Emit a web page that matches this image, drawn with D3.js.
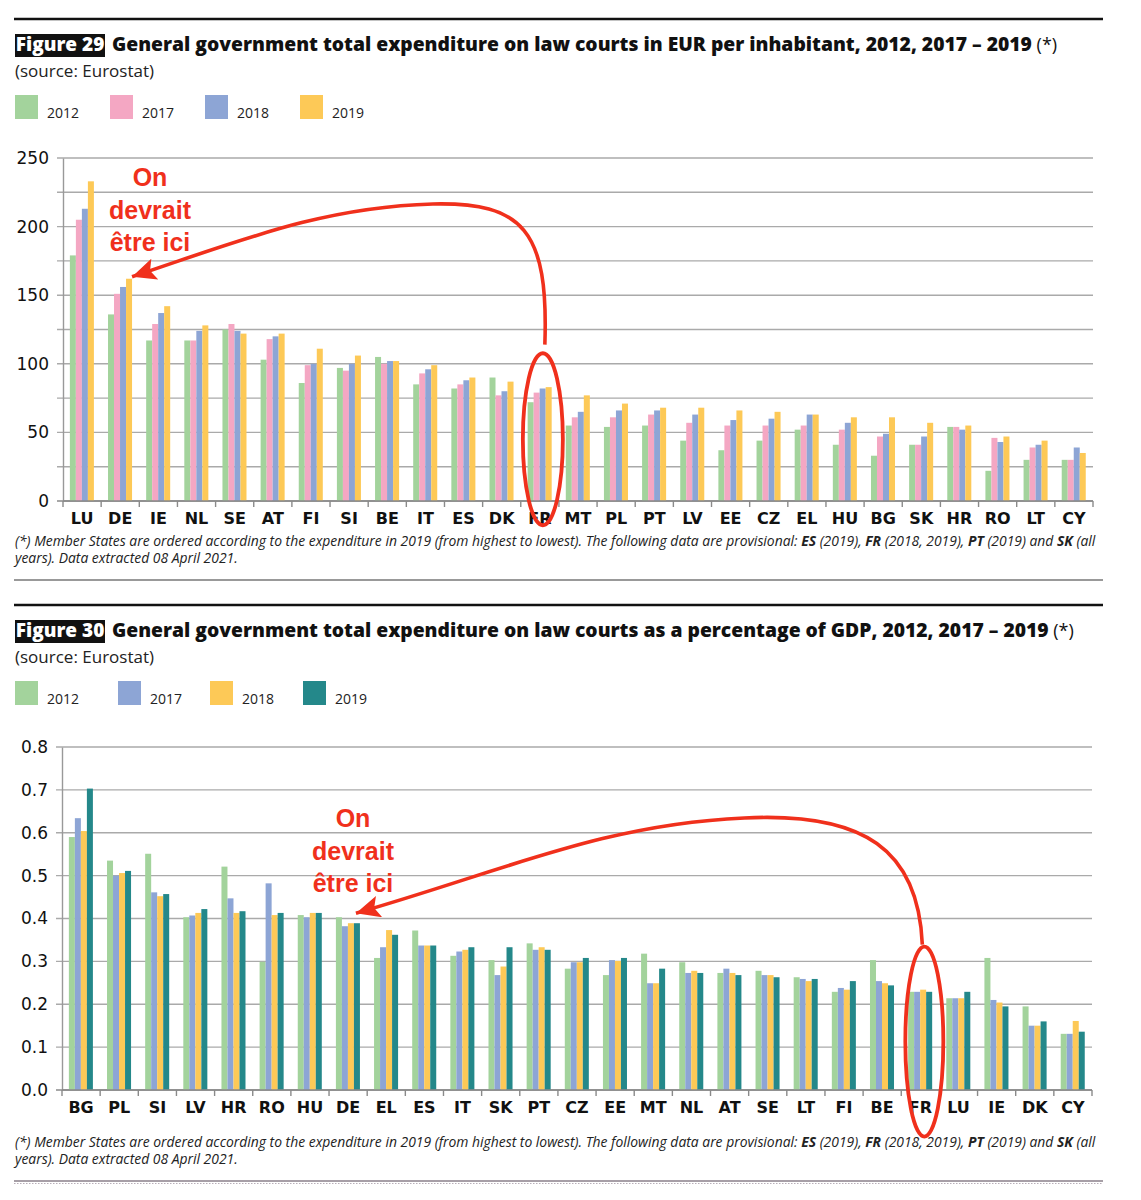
<!DOCTYPE html>
<html>
<head>
<meta charset="utf-8">
<script src="https://cdn.jsdelivr.net/npm/d3@7"></script>
<style>
  body { margin: 0; background: #fff; }
  svg { display: block; }
</style>
</head>
<body>
<svg id="page" width="1141" height="1200"></svg>
<script>
// ---- data, figure 29 (EUR per inhabitant) ----
var countries29 = ["LU","DE","IE","NL","SE","AT","FI","SI","BE","IT","ES","DK","FR","MT","PL","PT","LV","EE","CZ","EL","HU","BG","SK","HR","RO","LT","CY"];
var years29 = ["2012","2017","2018","2019"];
var eur2012 = [179,136,117,117,125,103,86,97,105,85,82,90,72,55,54,55,44,37,44,52,41,33,41,54,22,30,30];
var eur2017 = [205,151,129,117,129,118,99,95,100,93,85,77,79,61,61,63,57,55,55,55,52,47,41,54,46,39,30];
var eur2018 = [213,156,137,124,124,120,100,100,102,96,88,80,82,65,66,66,63,59,60,63,57,49,47,52,43,41,39];
var eur2019 = [233,162,142,128,122,122,111,106,102,99,90,87,83,77,71,68,68,66,65,63,61,61,57,55,47,44,35];
var ticks29 = [0,50,100,150,200,250];

// ---- data, figure 30 (% of GDP) ----
var countries30 = ["BG","PL","SI","LV","HR","RO","HU","DE","EL","ES","IT","SK","PT","CZ","EE","MT","NL","AT","SE","LT","FI","BE","FR","LU","IE","DK","CY"];
var years30 = ["2012","2017","2018","2019"];
var gdp2012 = [0.590,0.535,0.551,0.403,0.521,0.299,0.408,0.403,0.308,0.372,0.313,0.303,0.342,0.283,0.268,0.318,0.298,0.273,0.278,0.263,0.229,0.303,0.229,0.214,0.308,0.195,0.131];
var gdp2017 = [0.634,0.500,0.461,0.407,0.447,0.482,0.403,0.382,0.333,0.337,0.323,0.268,0.327,0.298,0.303,0.249,0.273,0.283,0.268,0.259,0.238,0.254,0.229,0.214,0.210,0.150,0.131];
var gdp2018 = [0.604,0.506,0.452,0.413,0.413,0.408,0.413,0.389,0.373,0.337,0.327,0.288,0.333,0.298,0.301,0.249,0.278,0.273,0.268,0.254,0.234,0.249,0.234,0.214,0.204,0.150,0.161];
var gdp2019 = [0.703,0.511,0.457,0.422,0.417,0.413,0.413,0.389,0.362,0.337,0.333,0.333,0.327,0.308,0.308,0.283,0.273,0.268,0.263,0.259,0.254,0.244,0.229,0.229,0.195,0.160,0.136];
var ticks30 = [0,0.1,0.2,0.3,0.4,0.5,0.6,0.7,0.8];

var green = "#a3d39c", pink = "#f4a7c3", blue = "#8da5d5", yellow = "#fdc957", teal = "#24888a";
var red = "#f0301c";

var svg = d3.select("#page");
svg.append("defs").append("marker")
    .attr("id", "arrowhead")
    .attr("markerUnits", "userSpaceOnUse")
    .attr("markerWidth", 26).attr("markerHeight", 22)
    .attr("refX", 24).attr("refY", 11)
    .attr("orient", "auto")
  .append("path")
    .attr("d", "M0,0 L24,11 L0,22 L5,11 Z")
    .attr("fill", red);

function drawHeader(top, label, title, legendYears, legendColors, legendX) {
    var g = svg.append("g");
    g.append("line").attr("x1", 14).attr("x2", 1103).attr("y1", top).attr("y2", top)
        .attr("stroke", "#111").attr("stroke-width", 2.5);
    g.append("rect").attr("x", 15).attr("y", top + 15).attr("width", 90).attr("height", 23).attr("fill", "#111");
    g.append("text").attr("x", 60).attr("y", top + 32).attr("text-anchor", "middle")
        .attr("font-family", "Open Sans").attr("font-weight", 800).attr("font-size", 19)
        .attr("fill", "#fff").text(label);
    var t = g.append("text").attr("x", 112).attr("y", top + 32)
        .attr("font-family", "Open Sans").attr("font-size", 19.3).attr("fill", "#111");
    t.append("tspan").attr("font-weight", 800).text(title);
    t.append("tspan").attr("font-size", 18).text(" (*)");
    g.append("text").attr("x", 15).attr("y", top + 58)
        .attr("font-family", "Open Sans").attr("font-size", 17).attr("fill", "#222")
        .text("(source: Eurostat)");
    legendYears.forEach(function (yr, i) {
        g.append("rect").attr("x", legendX[i]).attr("y", top + 76).attr("width", 23).attr("height", 24)
            .attr("fill", legendColors[i]);
        g.append("text").attr("x", legendX[i] + 32).attr("y", top + 99)
            .attr("font-family", "Open Sans").attr("font-size", 14).attr("fill", "#222").text(yr);
    });
}

function drawChart(cfg) {
    var g = svg.append("g");
    var x0 = d3.scaleBand().domain(cfg.categories).range([cfg.left, cfg.right]);
    var x1 = d3.scaleBand().domain(cfg.years)
        .range([x0.bandwidth() * 0.18, x0.bandwidth() * 0.81]);
    var y = d3.scaleLinear().domain([0, cfg.max]).range([cfg.bottom, cfg.top]);

    // gridlines
    g.append("g").selectAll("line").data(cfg.grid).join("line")
        .attr("x1", cfg.left - 6).attr("x2", cfg.right)
        .attr("y1", function (d) { return y(d); }).attr("y2", function (d) { return y(d); })
        .attr("stroke", function (d) { return d === 0 ? "#8a8a8a" : "#aaaaaa"; })
        .attr("stroke-width", 1.4);

    // y axis
    var yAxis = d3.axisLeft(y).tickValues(cfg.ticks).tickFormat(cfg.fmt).tickSize(0).tickPadding(14);
    var ya = g.append("g").attr("transform", "translate(" + cfg.left + ",0)").call(yAxis);
    ya.select(".domain").attr("stroke", "#999").attr("stroke-width", 1.4);
    ya.selectAll("text").attr("font-family", "DejaVu Sans").attr("font-size", 17).attr("fill", "#111");

    // bars
    var series = cfg.years.map(function (yr, i) { return { year: yr, values: cfg.values[i], color: cfg.colors[i] }; });
    g.append("g").selectAll("g").data(series).join("g")
        .attr("fill", function (s) { return s.color; })
      .selectAll("rect").data(function (s) {
          return s.values.map(function (v, j) { return { c: cfg.categories[j], v: v, year: s.year }; });
      }).join("rect")
        .attr("x", function (d) { return x0(d.c) + x1(d.year); })
        .attr("width", x1.bandwidth())
        .attr("y", function (d) { return y(d.v); })
        .attr("height", function (d) { return y(0) - y(d.v); });

    // x axis with tick marks between categories
    g.append("line").attr("x1", cfg.left).attr("x2", cfg.right)
        .attr("y1", y(0)).attr("y2", y(0)).attr("stroke", "#8a8a8a").attr("stroke-width", 1.4);
    var edges = cfg.categories.map(function (c) { return x0(c); }).concat([cfg.right]);
    g.append("g").selectAll("line").data(edges).join("line")
        .attr("x1", function (d) { return d; }).attr("x2", function (d) { return d; })
        .attr("y1", y(0)).attr("y2", y(0) + 6).attr("stroke", "#8a8a8a").attr("stroke-width", 1.4);
    g.append("g").selectAll("text").data(cfg.categories).join("text")
        .attr("x", function (c) { return x0(c) + x0.bandwidth() / 2; })
        .attr("y", y(0) + 23)
        .attr("text-anchor", "middle")
        .attr("font-family", "DejaVu Sans").attr("font-weight", 700).attr("font-size", 16)
        .attr("fill", "#111")
        .text(function (c) { return c; });

    return { x0: x0, x1: x1, y: y };
}

function drawFootnote(yTop, ruleStyle) {
    var g = svg.append("g").attr("font-family", "Open Sans").attr("font-style", "italic")
        .attr("font-size", 13.9).attr("fill", "#222");
    var t = g.append("text").attr("x", 15).attr("y", yTop);
    var parts = [["(*) Member States are ordered according to the expenditure in 2019 (from highest to lowest). The following data are provisional: ", 400],
        ["ES", 700], [" (2019), ", 400], ["FR", 700], [" (2018, 2019), ", 400], ["PT", 700], [" (2019) and ", 400], ["SK", 700], [" (all", 400]];
    parts.forEach(function (p) { t.append("tspan").attr("font-weight", p[1]).text(p[0]); });
    g.append("text").attr("x", 15).attr("y", yTop + 17).text("years). Data extracted 08 April 2021.");
    var rule = svg.append("line").attr("x1", 14).attr("x2", 1103).attr("y1", yTop + 34).attr("y2", yTop + 34)
        .attr("stroke", "#777").attr("stroke-width", 1.3);
    if (ruleStyle === "dotted") {
        rule.attr("stroke", "#8a7f8a");
        svg.append("line").attr("x1", 14).attr("x2", 1103).attr("y1", yTop + 36.5).attr("y2", yTop + 36.5)
            .attr("stroke", "#b8aeb8").attr("stroke-width", 1.2).attr("stroke-dasharray", "1.5,1.5");
    }
}

function drawNote(cx, baseY) {
    var lines = ["On", "devrait", "être ici"];
    svg.append("g").selectAll("text").data(lines).join("text")
        .attr("x", cx).attr("y", function (d, i) { return baseY + i * 32.5; })
        .attr("text-anchor", "middle")
        .attr("font-family", "Liberation Sans").attr("font-weight", 700).attr("font-size", 25)
        .attr("fill", red).text(function (d) { return d; });
}

// ---------- Figure 29 ----------
drawHeader(19, "Figure 29", "General government total expenditure on law courts in EUR per inhabitant, 2012, 2017 – 2019",
    years29, [green, pink, blue, yellow], [15, 110, 205, 300]);

var s29 = drawChart({
    categories: countries29, years: years29,
    values: [eur2012, eur2017, eur2018, eur2019],
    colors: [green, pink, blue, yellow],
    max: 250, ticks: ticks29, grid: d3.range(0, 251, 25), fmt: d3.format("d"),
    left: 63, right: 1093, top: 158, bottom: 501
});
drawFootnote(546, "solid");

// circle around FR and arrow to where it "should" be
var fr29 = s29.x0("FR") + s29.x0.bandwidth() / 2 + 3;
svg.append("ellipse").attr("cx", fr29).attr("cy", s29.y(45)).attr("rx", 20).attr("ry", 86)
    .attr("fill", "none").attr("stroke", red).attr("stroke-width", 3.8);
var tip29 = [s29.x0("DE") + s29.x1("2019") + s29.x1.bandwidth(), s29.y(eur2019[1]) - 2];
svg.append("path")
    .attr("d", "M" + (fr29 + 2) + "," + s29.y(114) +
        " C" + (fr29 + 6) + ",230 " + (fr29 - 20) + ",202 " + (fr29 - 110) + ",204" +
        " C" + (fr29 - 220) + ",207 " + (tip29[0] + 110) + ",240 " + tip29[0] + "," + tip29[1])
    .attr("fill", "none").attr("stroke", red).attr("stroke-width", 3.6)
    .attr("marker-end", "url(#arrowhead)");
drawNote(150, 186);

// ---------- Figure 30 ----------
drawHeader(605, "Figure 30", "General government total expenditure on law courts as a percentage of GDP, 2012, 2017 – 2019",
    years30, [green, blue, yellow, teal], [15, 118, 210, 303]);

var s30 = drawChart({
    categories: countries30, years: years30,
    values: [gdp2012, gdp2017, gdp2018, gdp2019],
    colors: [green, blue, yellow, teal],
    max: 0.8, ticks: ticks30, grid: ticks30, fmt: d3.format(".1f"),
    left: 62, right: 1092, top: 747, bottom: 1090
});
drawFootnote(1147, "dotted");

var fr30 = s30.x0("FR") + s30.x0.bandwidth() / 2 + 4;
svg.append("ellipse").attr("cx", fr30).attr("cy", s30.y(0.113)).attr("rx", 19).attr("ry", 95)
    .attr("fill", "none").attr("stroke", red).attr("stroke-width", 3.8);
var tip30 = [s30.x0("DE") + s30.x1("2019") + 2, s30.y(gdp2019[7]) - 10];
svg.append("path")
    .attr("d", "M" + (fr30 - 2) + "," + s30.y(0.339) +
        " C" + (fr30 - 6) + ",850 " + (fr30 - 60) + ",812 " + (fr30 - 180) + ",818" +
        " C" + (fr30 - 320) + ",824 " + (tip30[0] + 150) + ",870 " + tip30[0] + "," + tip30[1])
    .attr("fill", "none").attr("stroke", red).attr("stroke-width", 3.6)
    .attr("marker-end", "url(#arrowhead)");
drawNote(353, 827);
</script>
</body>
</html>
